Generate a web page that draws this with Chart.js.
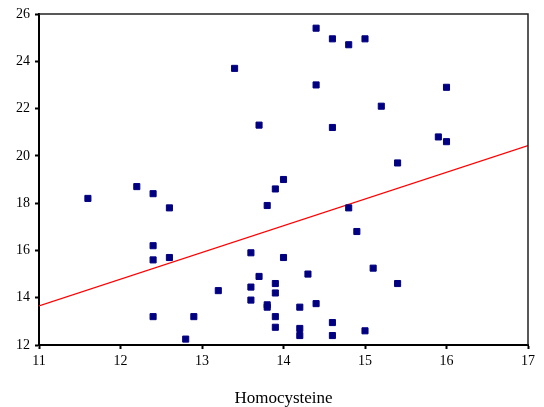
<!DOCTYPE html>
<html>
<head>
<meta charset="utf-8">
<script src="https://cdn.jsdelivr.net/npm/chart.js@4"></script>
<style>
	html, body { margin: 0; padding: 0; background: #fff; }
	canvas { display: block; }
</style>
</head>
<body>
<canvas id="chart" width="544" height="407"></canvas>
<script>
// scatter points
const homocysteine = [
	11.6, 12.2, 12.4, 12.6, 12.4, 12.4, 12.6, 12.4, 12.9, 12.8,
	13.2, 13.6, 13.6, 13.6, 13.7, 13.8, 13.9, 13.8, 13.8, 13.9,
	13.9, 13.9, 13.9, 14.0, 13.4, 13.7, 14.4, 14.6, 14.8, 15.0,
	14.4, 16.0, 15.2, 14.6, 15.9, 16.0, 15.4, 14.8, 14.9, 14.0,
	15.1, 14.3, 15.4, 14.2, 14.4, 14.2, 14.2, 14.6, 14.6, 15.0
];
const values = [
	18.2, 18.7, 18.4, 17.8, 16.2, 15.6, 15.7, 13.2, 13.2, 12.25,
	14.3, 15.9, 14.45, 13.9, 14.9, 17.9, 18.6, 13.7, 13.6, 14.6,
	14.2, 13.2, 12.75, 19.0, 23.7, 21.3, 25.4, 24.95, 24.7, 24.95,
	23.0, 22.9, 22.1, 21.2, 20.8, 20.6, 19.7, 17.8, 16.8, 15.7,
	15.25, 15.0, 14.6, 13.6, 13.75, 12.7, 12.4, 12.95, 12.4, 12.6
];
// fit line end points
const fitX = [11, 17];
const fitY = [13.65, 20.43];

const xTicks = [11, 12, 13, 14, 15, 16, 17];
const yTicks = [12, 14, 16, 18, 20, 22, 24, 26];

const serif = "'Liberation Serif', 'DejaVu Serif', serif";

// thin frame on the top and right of the plot
const framePlugin = {
	id: 'frame',
	afterDatasetsDraw(chart) {
		const { ctx, chartArea: a } = chart;
		ctx.save();
		ctx.strokeStyle = '#222';
		ctx.lineWidth = 1.5;
		ctx.beginPath();
		ctx.moveTo(a.left, a.top);
		ctx.lineTo(a.right, a.top);
		ctx.lineTo(a.right, a.bottom);
		ctx.stroke();
		ctx.restore();
	}
};

new Chart(document.getElementById('chart'), {
	type: 'scatter',
	data: {
		datasets: [
			{
				type: 'line',
				data: fitX.map((x, i) => ({ x, y: fitY[i] })),
				borderColor: '#ff0000',
				borderWidth: 1.2,
				pointRadius: 0,
				order: 1
			},
			{
				data: homocysteine.map((x, i) => ({ x, y: values[i] })),
				pointStyle: 'rect',
				pointRadius: 4.3,
				backgroundColor: '#000080',
				borderColor: '#000080',
				borderWidth: 1,
				order: 0
			}
		]
	},
	options: {
		responsive: false,
		animation: false,
		layout: { padding: { top: 14, right: 16, left: 0, bottom: 0 } },
		plugins: { legend: { display: false }, tooltip: { enabled: false } },
		scales: {
			x: {
				type: 'linear',
				min: 11, max: 17,
				afterBuildTicks: s => { s.ticks = xTicks.map(v => ({ value: v })); },
				afterFit: s => { s.height = 62; },
				border: { display: true, color: '#000', width: 2 },
				grid: { drawOnChartArea: false, drawTicks: true, tickLength: 4, tickWidth: 2, color: '#000' },
				ticks: { color: '#000', padding: 4, maxRotation: 0, font: { family: serif, size: 14 } },
				title: {
					display: true,
					text: 'Homocysteine',
					color: '#000',
					padding: { top: 0, bottom: 0 },
					font: { family: serif, size: 17, lineHeight: 1.0 }
				}
			},
			y: {
				type: 'linear',
				min: 12, max: 26,
				afterBuildTicks: s => { s.ticks = yTicks.map(v => ({ value: v })); },
				afterFit: s => { s.width = 39; },
				border: { display: true, color: '#000', width: 2 },
				grid: { drawOnChartArea: false, drawTicks: true, tickLength: 4, tickWidth: 2, color: '#000' },
				ticks: { color: '#000', padding: 5, font: { family: serif, size: 14 } }
			}
		}
	},
	plugins: [framePlugin]
});
</script>
</body>
</html>
